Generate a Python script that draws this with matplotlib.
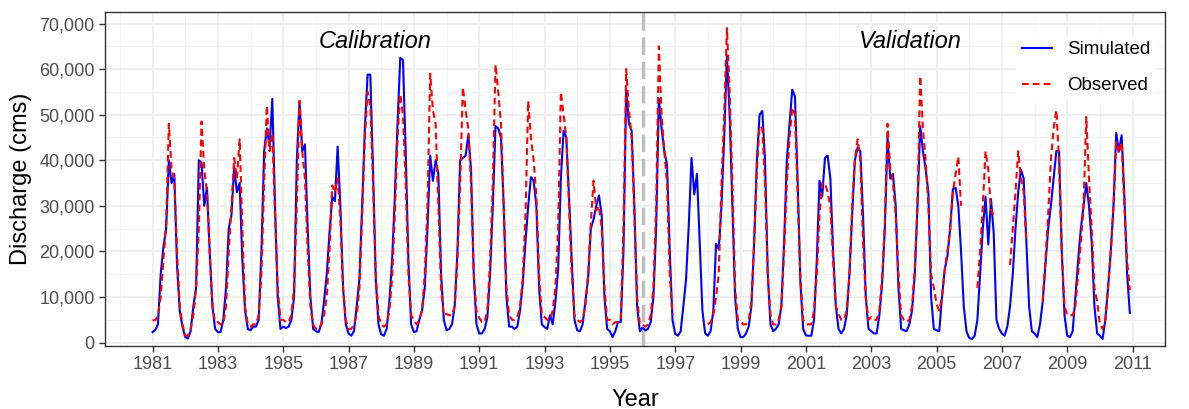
import matplotlib.pyplot as plt
import matplotlib.ticker as mticker
import numpy as np

YEARS = list(range(1981, 2011))

# monthly discharge (cms), one row per year, Jan..Dec
simulated = [
    2300, 2800, 4000, 15000, 21000, 25000, 40000, 35000, 37000, 17000, 7000, 3500,  # 1981
    1200, 900, 2500, 8000, 12000, 40000, 39500, 30000, 34000, 20000, 8000, 3000,  # 1982
    2300, 2300, 5000, 12000, 25000, 28000, 38500, 33000, 35000, 18000, 7000, 3000,  # 1983
    2700, 3500, 3500, 5000, 20000, 42000, 47000, 43000, 53500, 30000, 10000, 3000,  # 1984
    3500, 3200, 3500, 5000, 10000, 40000, 53000, 42000, 43500, 25000, 10000, 3000,  # 1985
    2500, 2300, 4000, 9000, 15000, 24000, 32000, 31000, 43000, 30000, 12000, 4000,  # 1986
    2000, 1500, 2500, 8000, 14000, 30000, 47000, 58800, 58800, 38000, 14000, 4000,  # 1987
    1800, 1500, 3000, 9000, 18000, 32000, 48000, 62500, 62000, 42000, 18000, 4000,  # 1988
    2300, 2500, 5000, 7000, 12000, 25000, 41000, 35500, 40000, 37000, 15000, 5000,  # 1989
    2700, 3000, 4000, 8000, 20000, 40000, 40500, 41000, 45500, 38000, 15000, 4000,  # 1990
    2000, 2000, 3000, 5500, 15000, 30000, 47500, 47000, 45000, 30000, 10000, 3500,  # 1991
    3500, 3000, 3500, 7000, 13000, 22000, 30000, 36300, 35500, 30000, 12000, 4000,  # 1992
    3400, 3000, 6000, 4000, 9000, 16000, 36000, 46500, 45000, 32000, 18000, 5000,  # 1993
    2700, 2500, 4000, 9000, 14000, 25000, 27000, 30000, 32300, 28000, 10000, 3000,  # 1994
    2500, 1200, 2500, 4500, 4500, 20000, 55500, 48000, 46500, 30000, 8000, 2500,  # 1995
    3300, 2700, 3000, 4500, 10000, 25000, 53500, 47000, 42000, 39000, 20000, 5000,  # 1996
    1900, 1500, 2500, 8000, 14000, 26000, 40500, 32500, 37000, 22000, 7000, 2000,  # 1997
    1500, 2500, 7000, 21700, 20500, 30000, 45000, 63000, 50000, 30000, 10000, 3000,  # 1998
    1200, 1200, 2000, 3500, 8000, 22000, 40000, 50000, 50800, 40000, 15000, 4000,  # 1999
    2500, 3000, 4000, 8000, 22000, 40000, 48000, 55500, 54000, 35000, 13000, 3000,  # 2000
    1600, 1500, 1500, 5000, 18000, 35500, 32000, 40500, 41000, 36000, 20000, 8000,  # 2001
    3000, 2000, 3000, 6000, 15000, 28000, 40000, 42800, 42000, 28000, 10000, 3000,  # 2002
    2500, 2000, 2000, 6000, 13000, 25000, 45000, 36000, 37000, 30000, 12000, 3000,  # 2003
    2700, 2500, 4000, 7000, 15000, 30000, 47500, 42000, 38000, 33000, 10000, 3000,  # 2004
    2700, 2500, 10000, 16000, 19000, 25000, 33700, 34000, 30000, 20000, 8000, 2500,  # 2005
    1000, 800, 1500, 5000, 15000, 25000, 32000, 21500, 31500, 24000, 5000, 3000,  # 2006
    2000, 1500, 3500, 8000, 15000, 25000, 33000, 38000, 36000, 22000, 8000, 2500,  # 2007
    2000, 1200, 4000, 9000, 17000, 25000, 30000, 36000, 42000, 42000, 20000, 6000,  # 2008
    1500, 1200, 2500, 10000, 18000, 25000, 30000, 35000, 30000, 22000, 8000, 2000,  # 2009
    1500, 800, 5000, 12000, 20000, 30000, 46000, 42000, 45500, 32000, 15000, 6500,  # 2010
]

nan = np.nan
observed = [
    4900, 4900, 6000, 10000, 18000, 26000, 48000, 38000, 36000, 20000, 8000, 4000,  # 1981
    1500, 1500, 3000, 6000, 12000, 25000, 48500, 38000, 33000, 20000, 8000, 4500,  # 1982
    4500, 4000, 4000, 8000, 20000, 30000, 40500, 36000, 44600, 25000, 8000, 4000,  # 1983
    3500, 4000, 4000, 6000, 15000, 35000, 52000, 42000, 46000, 28000, 12000, 5000,  # 1984
    5000, 4500, 4500, 6000, 12000, 30000, 53000, 42000, 36000, 20000, 8000, 4000,  # 1985
    3000, 3000, 4000, 6000, 10000, 20000, 34500, 33000, 36000, 27000, 12000, 5000,  # 1986
    3000, 3000, 4000, 6000, 12000, 28000, 45000, 55000, 52000, 35000, 15000, 6000,  # 1987
    4000, 3500, 4000, 7000, 14000, 28000, 45000, 54500, 50000, 35000, 15000, 6000,  # 1988
    5000, 4000, 5000, 7000, 15000, 30000, 59000, 51000, 48000, 30000, 12000, 6000,  # 1989
    6300, 6000, 6000, 8000, 18000, 35000, 56000, 51000, 47000, 35000, 15000, 7000,  # 1990
    5500, 4500, 4500, 7000, 18000, 35000, 61000, 55000, 48000, 30000, 12000, 6000,  # 1991
    5000, 5000, 5500, 8000, 14000, 28000, 53000, 45000, 40000, 32000, 15000, 6000,  # 1992
    5600, 5000, 5000, 7000, 12000, 25000, 55000, 50000, 45000, 30000, 15000, 6000,  # 1993
    5000, 4500, 5000, 8000, 15000, 26000, 35500, 29000, 30000, 25000, 12000, 5000,  # 1994
    5000, 4000, 4500, 4500, 5000, 25000, 60000, 51000, 45000, 28000, 10000, 4000,  # 1995
    4000, 3500, 4000, 6000, 12000, 30000, 65000, 50000, 42000, 35000, 15000, 6000,  # 1996
    nan, nan, nan, nan, nan, nan, nan, nan, nan, nan, nan, nan,  # 1997
    4000, 4500, 6000, 10000, 15000, 35000, 50000, 69000, 55000, 35000, 12000, 5000,  # 1998
    4900, 4000, 4000, 5000, 9000, 22000, 38000, 47500, 47000, 35000, 15000, 6000,  # 1999
    4000, 4000, 5000, 8000, 20000, 35000, 45000, 51600, 50000, 32000, 14000, 5000,  # 2000
    4000, 4000, 4000, 7000, 15000, 28000, 35000, 35000, 33000, 30000, 18000, 8000,  # 2001
    6300, 5000, 5000, 7000, 15000, 30000, 40000, 44600, 40000, 22000, 10000, 5000,  # 2002
    5600, 5000, 5000, 7000, 14000, 26000, 48000, 38000, 35000, 28000, 15000, 6000,  # 2003
    5000, 4500, 5000, 8000, 16000, 30000, 58500, 47000, 40000, 30000, 15000, 12000,  # 2004
    8500, 7000, 10000, 16000, 20000, 25000, 33000, 37000, 40800, 30000, nan, nan,  # 2005
    nan, nan, nan, 12000, 20000, 30000, 42000, 38000, 29000, 28000, nan, nan,  # 2006
    nan, nan, nan, 17000, 25000, 33000, 42000, 36000, 33000, 22000, nan, nan,  # 2007
    nan, nan, nan, 9000, 18000, 28000, 40000, 47000, 51000, 40000, 20000, 8000,  # 2008
    6000, 6000, 6000, 8000, 15000, 22000, 30000, 49500, 36000, 25000, 12000, 9000,  # 2009
    4000, 3000, 5000, 12000, 20000, 30000, 44000, 41500, 44000, 30000, 18000, 11500,  # 2010
]

SPLIT_YEAR = 1996


def decimal_dates(years):
    return np.array([y + m / 12.0 for y in years for m in range(12)])


def main():
    plt.rcParams["font.family"] = ["Liberation Sans", "DejaVu Sans"]

    t = decimal_dates(YEARS)
    sim = np.array(simulated, dtype=float)
    obs = np.array(observed, dtype=float)

    fig = plt.figure(figsize=(11.89, 4.09), dpi=100)
    ax = fig.add_axes([0.0883, 0.154, 0.8917, 0.817])

    ax.plot(t, sim, color="#0000FF", linewidth=1.5, label="Simulated", zorder=3)
    ax.plot(t, obs, color="#FF0000", linewidth=1.5, linestyle=(0, (3.2, 2)),
            label="Observed", zorder=4)
    ax.axvline(SPLIT_YEAR, color="#BEBEBE", linewidth=2.5, linestyle=(0, (5, 2)), zorder=2)

    ax.text(1987.8, 66000, "Calibration", fontsize=17, style="italic", ha="center", va="center")
    ax.text(2004.2, 66000, "Validation", fontsize=17, style="italic", ha="center", va="center")

    ax.set_xlim(1979.545, 2011.47)
    ax.set_ylim(-750, 72560)
    ax.set_xticks(range(1981, 2012, 2))
    ax.set_xticks(range(1980, 2013, 2), minor=True)
    ax.set_yticks(range(0, 70001, 10000))
    ax.set_yticks(range(5000, 70001, 10000), minor=True)
    ax.yaxis.set_major_formatter(mticker.FuncFormatter(lambda v, p: f"{v:,.0f}"))

    ax.grid(True, which="major", color="#EBEBEB", linewidth=1.1, zorder=0)
    ax.grid(True, which="minor", color="#F2F2F2", linewidth=0.6, zorder=0)
    ax.set_axisbelow(True)
    ax.tick_params(which="major", length=4, width=1, color="#333333",
                   labelcolor="#4D4D4D", labelsize=13)
    ax.tick_params(which="minor", length=0)
    for s in ax.spines.values():
        s.set_color("#333333")
        s.set_linewidth(1)

    ax.set_xlabel("Year", fontsize=17, labelpad=11)
    ax.set_ylabel("Discharge (cms)", fontsize=17, labelpad=5)

    leg = ax.legend(loc="upper right", bbox_to_anchor=(1.0, 0.957), frameon=True,
                    fontsize=13.5, handlelength=1.6, handletextpad=0.8,
                    labelspacing=1.0, borderpad=0.3)
    leg.get_frame().set_edgecolor("none")
    leg.get_frame().set_facecolor("white")
    leg.get_frame().set_alpha(1)

    fig.savefig("out.png", dpi=100)


if __name__ == "__main__":
    main()
